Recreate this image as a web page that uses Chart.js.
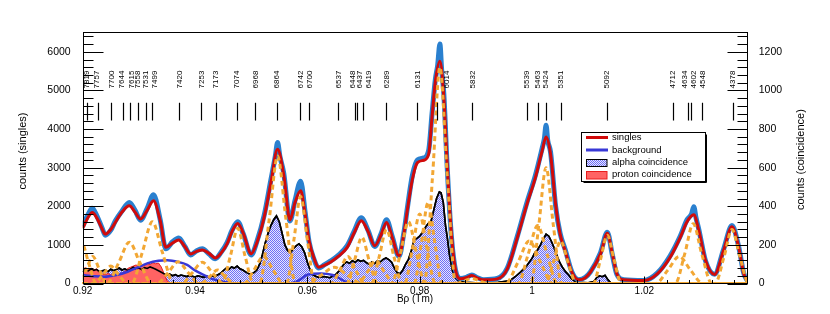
<!DOCTYPE html>
<html><head><meta charset="utf-8">
<script src="https://cdn.jsdelivr.net/npm/chart.js@4.4.0/dist/chart.umd.min.js"></script>
<style>html,body{margin:0;padding:0;background:#fff;}#wrap{width:830px;height:314px;}</style>
</head><body><div id="wrap"><canvas id="c" width="830" height="314"></canvas></div>
<script>
// ---------- data ----------
const fitBr = [0.9200,0.9210,0.9217,0.9225,0.9235,0.9240,0.9250,0.9258,0.9270,0.9283,0.9293,0.9303,0.9315,0.9326,0.9338,0.9348,0.9360,0.9371,0.9382,0.9392,0.9403,0.9413,0.9425,0.9436,0.9447,0.9457,0.9466,0.9476,0.9486,0.9500,0.9510,0.9523,0.9535,0.9547,0.9558,0.9569,0.9578,0.9588,0.9596,0.9603,0.9612,0.9620,0.9630,0.9641,0.9655,0.9671,0.9683,0.9696,0.9708,0.9720,0.9731,0.9741,0.9751,0.9763,0.9772,0.9778,0.9787,0.9796,0.9807,0.9816,0.9822,0.9828,0.9836,0.9843,0.9849,0.9856,0.9864,0.9873,0.9883,0.9893,0.9903,0.9914,0.9938,0.9956,0.9974,0.9991,1.0006,1.0018,1.0025,1.0033,1.0042,1.0050,1.0059,1.0071,1.0083,1.0095,1.0104,1.0122,1.0134,1.0143,1.0151,1.0163,1.0199,1.0223,1.0246,1.0264,1.0276,1.0288,1.0297,1.0309,1.0325,1.0341,1.0356,1.0368,1.0377,1.0384];
const fitCounts = [1430,1720,1840,1700,1400,1280,1400,1580,1850,2010,1850,1670,1900,2140,1625,937,1050,1127,950,766,830,870,780,663,800,1024,1350,1556,1300,770,1050,1711,2600,3475,2800,1643,2100,2400,1800,1109,650,421,470,550,700,937,1300,1625,1350,980,1250,1582,1200,722,1300,1900,2700,3130,3190,3350,4317,5237,5753,4806,3088,1367,335,121,150,206,140,95,120,380,1195,2056,2743,3432,3793,3346,2056,1282,851,292,95,150,292,766,1298,766,250,95,77,250,679,1195,1600,1780,1367,593,232,851,1470,937,250,50];

const histBr = [0.9200,0.9210,0.9217,0.9225,0.9235,0.9240,0.9250,0.9258,0.9270,0.9283,0.9293,0.9303,0.9315,0.9326,0.9338,0.9348,0.9360,0.9371,0.9382,0.9392,0.9403,0.9413,0.9425,0.9436,0.9447,0.9457,0.9466,0.9476,0.9486,0.9500,0.9510,0.9523,0.9535,0.9543,0.9547,0.9551,0.9558,0.9569,0.9578,0.9588,0.9596,0.9603,0.9612,0.9620,0.9630,0.9641,0.9655,0.9671,0.9683,0.9696,0.9708,0.9720,0.9731,0.9741,0.9751,0.9763,0.9772,0.9778,0.9787,0.9796,0.9807,0.9816,0.9822,0.9828,0.9832,0.9836,0.9839,0.9843,0.9849,0.9856,0.9864,0.9873,0.9883,0.9893,0.9903,0.9914,0.9938,0.9956,0.9974,0.9991,1.0006,1.0018,1.0022,1.0025,1.0028,1.0033,1.0042,1.0050,1.0059,1.0071,1.0083,1.0095,1.0104,1.0122,1.0134,1.0143,1.0151,1.0163,1.0199,1.0223,1.0246,1.0264,1.0276,1.0284,1.0288,1.0292,1.0297,1.0309,1.0325,1.0341,1.0356,1.0368,1.0377,1.0384];
const histCounts = [1480,1800,1950,1760,1420,1250,1380,1620,1880,2100,1900,1640,1950,2300,1650,900,1080,1180,960,740,850,900,760,640,820,1060,1380,1600,1280,740,1080,1760,2680,3300,3650,3300,2850,1620,2150,2650,1850,1080,620,400,480,580,730,980,1340,1700,1380,960,1280,1650,1220,700,1330,1950,2800,3200,3250,3450,4400,5300,5650,6200,5550,4900,3000,1300,330,130,160,220,150,100,130,400,1230,2100,2800,3500,3750,4100,3700,3400,2000,1300,880,300,100,160,300,800,1330,740,240,100,80,270,720,1230,1650,1800,1990,1700,1400,580,240,880,1500,950,260,60];

const bgBr = [0.9200,0.9220,0.9238,0.9260,0.9280,0.9300,0.9315,0.9335,0.9351,0.9370,0.9386,0.9400,0.9416,0.9430,0.9440,0.9455,0.9470,0.9570,0.9585,0.9600,0.9624,0.9645,0.9655,0.9668,0.9686,1.0384];
const bgCounts = [220,190,175,220,305,430,520,590,605,560,480,340,220,120,80,30,5,5,80,230,260,220,150,50,5,0];

// fit components (Bρ, counts)
const components = [
 [[0.9174,0],[0.9187,510],[0.9199,1020],[0.9211,510],[0.9224,0]],
 [[0.9193,0],[0.9206,350],[0.9218,700],[0.9230,350],[0.9243,0]],
 [[0.9220,0],[0.9236,225],[0.9250,450],[0.9264,225],[0.9280,0]],
 [[0.9243,0],[0.9264,535],[0.9283,1070],[0.9302,535],[0.9323,0]],
 [[0.9287,0],[0.9306,800],[0.9324,1600],[0.9342,800],[0.9362,0]],
 [[0.9332,0],[0.9352,280],[0.9370,560],[0.9388,280],[0.9408,0]],
 [[0.9376,0],[0.9395,275],[0.9413,550],[0.9431,275],[0.9451,0]],
 [[0.9410,0],[0.9426,175],[0.9440,350],[0.9454,175],[0.9470,0]],
 [[0.9448,0],[0.9463,715],[0.9476,1430],[0.9489,715],[0.9504,0]],
 [[0.9487,0],[0.9505,350],[0.9522,700],[0.9539,350],[0.9557,0]],
 [[0.9515,0],[0.9532,1650],[0.9547,3300],[0.9562,1650],[0.9579,0]],
 [[0.9563,0],[0.9576,1125],[0.9588,2250],[0.9600,1125],[0.9613,0]],
 [[0.9598,0],[0.9624,210],[0.9648,420],[0.9672,210],[0.9698,0]],
 [[0.9642,0],[0.9658,350],[0.9672,700],[0.9686,350],[0.9702,0]],
 [[0.9670,0],[0.9684,600],[0.9697,1200],[0.9710,600],[0.9725,0]],
 [[0.9690,0],[0.9707,300],[0.9722,600],[0.9737,300],[0.9755,0]],
 [[0.9714,0],[0.9728,700],[0.9741,1400],[0.9754,700],[0.9769,0]],
 [[0.9750,0],[0.9766,800],[0.9780,1600],[0.9794,800],[0.9810,0]],
 [[0.9773,0],[0.9787,900],[0.9800,1800],[0.9813,900],[0.9828,0]],
 [[0.9790,0],[0.9803,1050],[0.9815,2100],[0.9827,1050],[0.9840,0]],
 [[0.9808,0],[0.9823,2800],[0.9836,5600],[0.9849,2800],[0.9864,0]],
 [[0.9863,0],[0.9879,65],[0.9893,130],[0.9907,65],[0.9923,0]],
 [[0.9953,0],[0.9975,550],[0.9995,1100],[1.0015,550],[1.0037,0]],
 [[0.9975,0],[0.9993,750],[1.0010,1500],[1.0027,750],[1.0045,0]],
 [[0.9998,0],[1.0012,1500],[1.0025,3000],[1.0038,1500],[1.0053,0]],
 [[1.0024,0],[1.0038,550],[1.0051,1100],[1.0064,550],[1.0079,0]],
 [[1.0109,0],[1.0122,625],[1.0134,1250],[1.0146,625],[1.0159,0]],
 [[1.0220,0],[1.0242,350],[1.0262,700],[1.0282,350],[1.0304,0]],
 [[1.0255,0],[1.0272,775],[1.0287,1550],[1.0302,775],[1.0320,0]],
 [[1.0326,0],[1.0342,700],[1.0356,1400],[1.0370,700],[1.0386,0]]
];

const alphaBr = [0.9200,0.9205,0.9210,0.9215,0.9220,0.9225,0.9230,0.9235,0.9240,0.9245,0.9250,0.9255,0.9260,0.9265,0.9270,0.9275,0.9280,0.9285,0.9290,0.9295,0.9300,0.9305,0.9310,0.9315,0.9320,0.9325,0.9330,0.9335,0.9340,0.9345,0.9350,0.9355,0.9360,0.9365,0.9370,0.9375,0.9380,0.9385,0.9390,0.9395,0.9400,0.9405,0.9410,0.9415,0.9420,0.9425,0.9430,0.9435,0.9440,0.9445,0.9450,0.9455,0.9460,0.9465,0.9470,0.9475,0.9480,0.9485,0.9490,0.9495,0.9500,0.9505,0.9510,0.9515,0.9520,0.9525,0.9530,0.9535,0.9540,0.9545,0.9550,0.9555,0.9560,0.9565,0.9570,0.9575,0.9580,0.9585,0.9590,0.9595,0.9600,0.9605,0.9610,0.9615,0.9620,0.9630,0.9640,0.9650,0.9655,0.9660,0.9665,0.9670,0.9675,0.9680,0.9685,0.9690,0.9695,0.9700,0.9705,0.9710,0.9715,0.9720,0.9725,0.9730,0.9735,0.9740,0.9745,0.9750,0.9755,0.9760,0.9765,0.9770,0.9775,0.9780,0.9785,0.9790,0.9795,0.9800,0.9805,0.9810,0.9815,0.9820,0.9825,0.9830,0.9835,0.9838,0.9842,0.9846,0.9849,0.9853,0.9858,0.9864,0.9870,0.9880,0.9900,0.9920,0.9940,0.9960,0.9970,0.9980,0.9990,0.9995,1.0000,1.0005,1.0010,1.0015,1.0020,1.0025,1.0030,1.0035,1.0040,1.0045,1.0050,1.0055,1.0060,1.0065,1.0070,1.0080,1.0100,1.0110,1.0115,1.0120,1.0125,1.0130,1.0135,1.0140,1.0200,1.0384];
const alphaCounts = [60,72,65,75,68,72,60,66,70,62,74,66,72,80,70,76,68,74,84,76,80,72,82,78,86,80,74,66,58,50,42,48,40,46,38,44,40,36,42,38,34,40,36,32,38,34,40,36,44,52,66,78,72,86,80,90,76,70,60,52,48,56,70,100,150,210,260,300,330,350,320,260,200,170,160,180,195,205,190,160,110,70,45,38,32,36,30,45,60,80,100,112,105,118,110,122,115,120,108,100,112,104,118,112,125,132,124,110,80,55,50,70,100,125,170,225,234,245,265,290,310,320,380,440,475,470,420,300,242,150,70,28,12,6,4,4,6,14,35,60,90,110,130,160,175,200,230,255,245,215,180,140,105,80,60,45,25,6,4,10,30,40,35,42,20,4,2,0];

const protonBr = [0.9200,0.9205,0.9210,0.9215,0.9220,0.9225,0.9230,0.9235,0.9240,0.9245,0.9250,0.9255,0.9260,0.9265,0.9270,0.9275,0.9280,0.9285,0.9290,0.9295,0.9300,0.9305,0.9310,0.9315,0.9320,0.9325,0.9330,0.9335,0.9340,0.9345,0.9350,0.9355,0.9400,0.9500,0.9600,1.0384];
const protonCounts = [75,82,72,80,70,76,60,50,46,52,44,50,42,48,55,62,78,84,90,96,88,100,94,104,98,108,102,106,85,50,15,3,2,1,2,0];

// energy markers (keV) and their Bρ positions
const markerEnergies = [7819,7757,7700,7644,7615,7558,7531,7499,7420,7253,7173,7074,6968,6864,6742,6700,6537,6448,6437,6419,6289,6131,6014,5832,5539,5463,5424,5351,5092,4712,4634,4602,4548,4378];
const markerBr = [0.92068,0.92267,0.92504,0.92718,0.92842,0.92979,0.93121,0.93239,0.93715,0.94106,0.94368,0.94742,0.95073,0.95454,0.95869,0.96035,0.96551,0.96849,0.96890,0.96986,0.97401,0.97953,0.98303,0.98937,0.99906,1.00102,1.00241,1.00511,1.01330,1.02506,1.02773,1.02832,1.03033,1.03574];

// tick labels
const xTickValues = [0.92,0.94,0.96,0.98,1.00,1.02];
const xTickLabels = ['0.92','0.94','0.96','0.98','1','1.02'];
const yTickValues = [0,1000,2000,3000,4000,5000,6000];
const y2TickValues = [0,200,400,600,800,1000,1200];

// ---------- layout / style ----------
const FONT = '"Liberation Sans", Arial, Helvetica, sans-serif';
const labelShift = [0,-1,0,-2,1,0,0,2,0,0,0,0,0,0,0,0,0,-3,2,5.5,0,0,10,0,0,0,0,0,0,0,-3.5,2.5,0,0];
const MARK_TOP = 4680, MARK_BOTTOM = 4220, LABEL_BASE = 5050;
const X_MIN = 0.92, X_MAX = 1.0384, Y_MAX = 6520, Y2_MAX = 1304;

Chart.defaults.font.family = FONT;

const canvas = document.getElementById('c');
const ctx0 = canvas.getContext('2d');
function makeHatch() {
  const p = document.createElement('canvas'); p.width = 2; p.height = 2;
  const g = p.getContext('2d');
  g.fillStyle = '#e6e6ff'; g.fillRect(0, 0, 2, 2);
  g.fillStyle = '#6f6ff5'; g.fillRect(0, 0, 1, 1); g.fillRect(1, 1, 1, 1);
  return ctx0.createPattern(p, 'repeat');
}
const hatch = makeHatch();

const pts = (xs, ys) => xs.map((x, i) => ({ x, y: ys[i] }));
const ORANGE = '#f2a734', RED = '#d10a0a', HIST = '#2a80cf', BG = '#3838d6';

const datasets = [];
components.forEach(c => {
  const data = [{ x: X_MIN, y: 0 }].concat(c.map(p => ({ x: p[0], y: p[1] })), [{ x: X_MAX, y: 0 }]);
  datasets.push({ data, yAxisID: 'y', borderColor: ORANGE, borderWidth: 3, borderDash: [5, 3.5], cubicInterpolationMode: 'monotone', fill: false, order: 1 });
});
datasets.push({ data: pts(bgBr, bgCounts), yAxisID: 'y', borderColor: BG, borderWidth: 2.5, cubicInterpolationMode: 'monotone', fill: false, order: 2 });
datasets.push({ data: pts(fitBr, fitCounts), yAxisID: 'y', borderColor: RED, borderWidth: 3, cubicInterpolationMode: 'monotone', fill: false, order: 3 });
datasets.push({ data: pts(histBr, histCounts), yAxisID: 'y', borderColor: HIST, borderWidth: 5, cubicInterpolationMode: 'monotone', fill: false, order: 4 });
datasets.push({ data: pts(alphaBr, alphaCounts), yAxisID: 'y2', borderColor: '#000', borderWidth: 1.6, tension: 0, fill: false, order: 5 });
datasets.push({ data: pts(protonBr, protonCounts), yAxisID: 'y2', borderColor: '#e81e1e', borderWidth: 1, backgroundColor: '#ff6363', tension: 0, fill: 'origin', order: 6 });
datasets.push({ data: pts(alphaBr, alphaCounts), yAxisID: 'y2', borderColor: '#000', borderWidth: 1.6, backgroundColor: hatch, tension: 0, fill: 'origin', order: 7 });

const decor = {
  id: 'decor',
  afterDatasetsDraw(chart) {
    const { ctx, chartArea: a, scales: { x, y, y2 } } = chart;
    ctx.save();
    // energy markers
    ctx.strokeStyle = '#000'; ctx.lineWidth = 1.2;
    const yt = y.getPixelForValue(MARK_TOP), yb = y.getPixelForValue(MARK_BOTTOM);
    markerBr.forEach(b => {
      const px = Math.round(x.getPixelForValue(b)) + 0.5;
      ctx.beginPath(); ctx.moveTo(px, yt); ctx.lineTo(px, yb); ctx.stroke();
    });
    ctx.fillStyle = '#000'; ctx.font = '8px ' + FONT;
    markerEnergies.forEach((e, i) => {
      const px = x.getPixelForValue(markerBr[i]) + labelShift[i];
      ctx.save(); ctx.translate(px, y.getPixelForValue(LABEL_BASE)); ctx.rotate(-Math.PI / 2);
      ctx.textAlign = 'left'; ctx.textBaseline = 'middle'; ctx.fillText(String(e), 0, 0.5); ctx.restore();
    });
    // frame
    ctx.lineWidth = 1; ctx.strokeStyle = '#000';
    const L = Math.round(a.left) + 0.5, R = Math.round(a.right) - 0.5, T = Math.round(a.top) + 0.5, B = Math.round(a.bottom) - 0.5;
    ctx.strokeRect(L, T, R - L, B - T);
    ctx.beginPath();
    for (let v = 0; v <= Y_MAX; v += 200) {
      const py = Math.round(y.getPixelForValue(v)) + 0.5; const len = v % 1000 === 0 ? 20 : 10;
      ctx.moveTo(L, py); ctx.lineTo(L + len, py);
    }
    for (let v = 0; v <= Y2_MAX; v += 40) {
      const py = Math.round(y2.getPixelForValue(v)) + 0.5; const len = v % 200 === 0 ? 20 : 10;
      ctx.moveTo(R, py); ctx.lineTo(R - len, py);
    }
    for (let k = 0; X_MIN + k * 0.004 <= X_MAX + 1e-9; k++) {
      const px = Math.round(x.getPixelForValue(X_MIN + k * 0.004)) + 0.5; const len = k % 5 === 0 ? 7 : 3.5;
      ctx.moveTo(px, B); ctx.lineTo(px, B - len);
    }
    ctx.stroke();
    // axis titles
    ctx.font = '11px ' + FONT; ctx.fillStyle = '#000';
    ctx.save(); ctx.translate(22.5, 151); ctx.rotate(-Math.PI / 2); ctx.textAlign = 'center'; ctx.textBaseline = 'middle'; ctx.fillText('counts (singles)', 0, 0); ctx.restore();
    ctx.save(); ctx.translate(801, 210); ctx.rotate(-Math.PI / 2); ctx.textAlign = 'left'; ctx.textBaseline = 'middle'; ctx.fillText('counts (coincidence)', 0, 0); ctx.restore();
    ctx.font = '10px ' + FONT; ctx.textAlign = 'center'; ctx.textBaseline = 'middle';
    ctx.fillText('B\u03C1 (Tm)', 415, 299.5);
    // legend
    const lx = 581.5, ly = 132.5, lw = 124, lh = 49;
    ctx.fillStyle = '#fff'; ctx.fillRect(lx, ly, lw, lh);
    ctx.strokeStyle = '#000'; ctx.lineWidth = 1; ctx.strokeRect(lx, ly, lw, lh);
    ctx.beginPath(); ctx.moveTo(lx + 2, ly + lh + 1); ctx.lineTo(lx + lw + 1, ly + lh + 1); ctx.lineTo(lx + lw + 1, ly + 2); ctx.stroke();
    ctx.lineWidth = 3;
    ctx.strokeStyle = RED; ctx.beginPath(); ctx.moveTo(586, 137.5); ctx.lineTo(608, 137.5); ctx.stroke();
    ctx.strokeStyle = BG; ctx.beginPath(); ctx.moveTo(586, 150); ctx.lineTo(608, 150); ctx.stroke();
    ctx.lineWidth = 1;
    ctx.fillStyle = hatch; ctx.fillRect(586, 159, 21, 7.5);
    ctx.strokeStyle = '#000'; ctx.strokeRect(586.5, 159.5, 20.5, 7);
    ctx.fillStyle = '#ff6363'; ctx.fillRect(586, 171, 21, 8);
    ctx.strokeStyle = '#e81e1e'; ctx.strokeRect(586.5, 171.5, 20.5, 7.5);
    ctx.fillStyle = '#000'; ctx.font = '9.5px ' + FONT; ctx.textAlign = 'left'; ctx.textBaseline = 'middle';
    ctx.fillText('singles', 612, 137.5);
    ctx.fillText('background', 612, 150.5);
    ctx.fillText('alpha coincidence', 612, 162.7);
    ctx.fillText('proton coincidence', 612, 174.7);
    ctx.restore();
  }
};

new Chart(canvas, {
  type: 'line',
  data: { datasets },
  options: {
    responsive: false, animation: false, devicePixelRatio: 1,
    layout: { padding: { top: 31.7, left: 0, right: 0, bottom: 0 } },
    plugins: { legend: { display: false }, tooltip: { enabled: false } },
    elements: { point: { radius: 0, hitRadius: 0 } },
    scales: {
      x: {
        type: 'linear', min: X_MIN, max: X_MAX,
        grid: { display: false }, border: { display: false },
        afterBuildTicks: s => { s.ticks = xTickValues.map(v => ({ value: v })); },
        ticks: { autoSkip: false, maxRotation: 0, padding: -6, color: '#000', font: { size: 10 }, callback: (v, i) => xTickLabels[i] },
        afterFit: s => { s.height = 30.5; }
      },
      y: {
        type: 'linear', position: 'left', min: 0, max: Y_MAX,
        grid: { display: false }, border: { display: false },
        afterBuildTicks: s => { s.ticks = yTickValues.map(v => ({ value: v })); },
        ticks: { padding: 4, color: '#000', font: { size: 10.5 }, callback: v => String(v) },
        afterFit: s => { s.width = 82.7; }
      },
      y2: {
        type: 'linear', position: 'right', min: 0, max: Y2_MAX,
        grid: { display: false }, border: { display: false },
        afterBuildTicks: s => { s.ticks = y2TickValues.map(v => ({ value: v })); },
        ticks: { padding: 3, color: '#000', font: { size: 10.5 }, callback: v => String(v) },
        afterFit: s => { s.width = 82.3; }
      }
    }
  },
  plugins: [decor]
});
</script>
</body></html>
